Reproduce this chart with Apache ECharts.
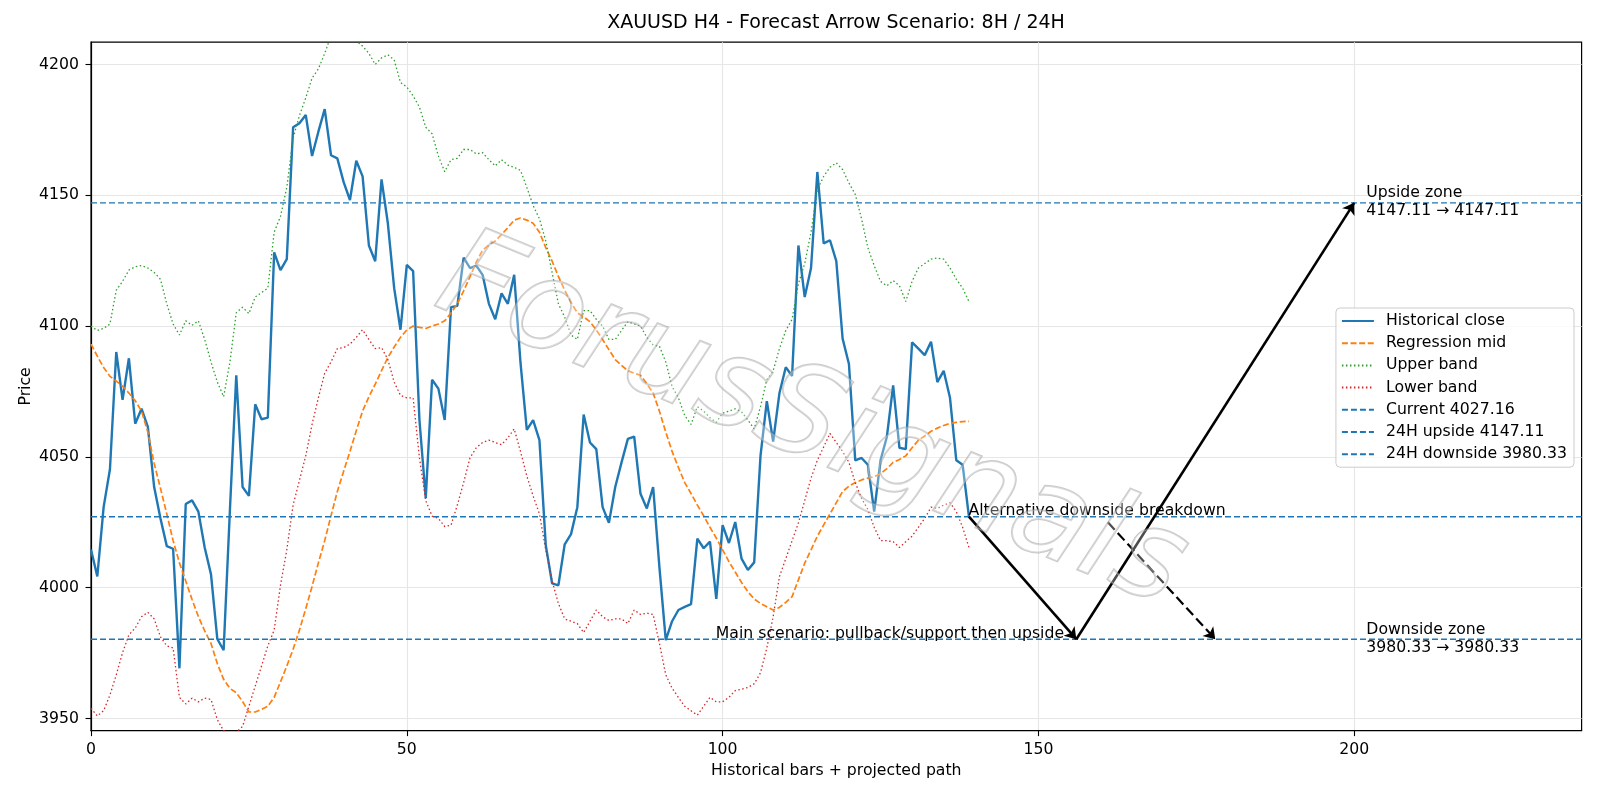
<!DOCTYPE html>
<html>
<head>
<meta charset="utf-8">
<title>XAUUSD H4 - Forecast Arrow Scenario</title>
<script src="https://cdn.jsdelivr.net/npm/echarts@6/dist/echarts.min.js"></script>
<style>
  html, body { margin: 0; padding: 0; background: #fff; }
  #chart { width: 1600px; height: 800px; }
</style>
</head>
<body>
<div id="chart"></div>
<script>
// historical closes, bar 0..139
const HIST_CLOSE = [
  4014.6, 4004.3, 4030.8, 4045.3, 4090.1, 4071.8, 4087.7, 4062.7, 4068.4, 4061.5,
  4038.5, 4026.5, 4015.9, 4014.9, 3969.2, 4032.0, 4033.4, 4029.1, 4015.4, 4005.1,
  3980.4, 3976.1, 4030.0, 4081.2, 4038.5, 4035.1, 4070.1, 4064.4, 4065.0, 4128.2,
  4121.4, 4125.6, 4176.0, 4177.5, 4180.7, 4165.0, 4174.3, 4182.9, 4165.3, 4164.1,
  4155.0, 4148.2, 4163.2, 4157.2, 4130.8, 4124.8, 4156.1, 4139.3, 4114.5, 4098.6,
  4123.4, 4121.0, 4064.1, 4034.2, 4079.5, 4076.1, 4064.1, 4107.2, 4107.7, 4126.2,
  4122.2, 4123.1, 4119.6, 4108.5, 4102.6, 4112.5, 4108.5, 4119.6, 4086.0, 4060.3,
  4064.1, 4056.4, 4016.3, 4001.7, 4000.9, 4016.6, 4020.5, 4030.8, 4066.2, 4055.5,
  4053.0, 4030.8, 4024.8, 4038.5, 4047.9, 4056.9, 4057.8, 4035.9, 4030.3, 4038.5,
  4007.7, 3980.0, 3987.2, 3991.5, 3992.7, 3993.7, 4018.8, 4015.1, 4017.6, 3995.7,
  4023.9, 4017.1, 4025.1, 4011.1, 4006.8, 4009.7, 4050.4, 4071.3, 4055.9, 4074.4,
  4084.3, 4080.9, 4130.8, 4111.1, 4122.2, 4158.9, 4131.6, 4132.8, 4124.8, 4095.2,
  4085.5, 4048.7, 4049.6, 4047.0, 4029.1, 4048.7, 4057.6, 4077.3, 4053.5, 4053.0,
  4093.8, 4091.4, 4088.9, 4094.0, 4078.6, 4082.9, 4072.6, 4048.7, 4047.0, 4027.16
]

const REG_MID = [
  4093.1, 4088.5, 4084.2, 4080.8, 4079.0, 4077.0, 4074.4, 4071.5, 4067.5, 4059.5,
  4047.5, 4038.0, 4028.2, 4018.0, 4009.5, 4002.6, 3995.5, 3989.0, 3983.5, 3978.7,
  3971.0, 3965.0, 3961.5, 3959.9, 3956.5, 3952.5, 3952.5, 3953.5, 3954.7, 3958.1,
  3964.0, 3970.1, 3976.5, 3983.8, 3992.0, 4000.5, 4009.5, 4018.0, 4027.5, 4036.8,
  4044.5, 4052.1, 4060.0, 4067.5, 4073.0, 4077.8, 4083.0, 4088.0, 4092.0, 4095.7,
  4098.5, 4100.0, 4099.5, 4099.1, 4100.0, 4100.8, 4102.0, 4105.0, 4108.5, 4113.5,
  4118.8, 4124.5, 4129.0, 4131.0, 4132.5, 4135.0, 4137.6, 4140.5, 4141.3, 4140.5,
  4139.3, 4135.9, 4130.0, 4124.8, 4119.0, 4113.7, 4109.0, 4105.1, 4103.5, 4101.7,
  4098.5, 4094.9, 4091.0, 4087.2, 4085.0, 4082.9, 4082.0, 4081.2, 4078.0, 4074.4,
  4067.5, 4059.5, 4052.1, 4046.0, 4040.2, 4036.0, 4031.6, 4027.5, 4023.1, 4019.0,
  4014.5, 4010.0, 4006.0, 4002.0, 3998.5, 3995.7, 3994.0, 3992.7, 3991.5, 3992.5,
  3994.4, 3996.6, 4003.0, 4009.4, 4014.5, 4019.7, 4024.0, 4028.2, 4032.5, 4036.8,
  4038.8, 4040.2, 4041.2, 4041.9, 4042.5, 4043.6, 4045.5, 4047.9, 4049.0, 4050.4,
  4053.5, 4056.4, 4058.0, 4059.8, 4061.0, 4062.0, 4062.8, 4063.2, 4063.5, 4063.6
]

const UPPER_BAND = [
  4100.0, 4098.3, 4099.1, 4100.8, 4113.7, 4117.1, 4121.4, 4122.7, 4123.1, 4122.2,
  4120.5, 4117.9, 4108.5, 4100.8, 4096.6, 4102.0, 4100.3, 4102.0, 4094.9, 4086.3,
  4078.6, 4073.0, 4086.3, 4105.1, 4107.2, 4104.8, 4111.1, 4112.8, 4114.5, 4135.9,
  4141.9, 4153.0, 4171.8, 4180.5, 4187.2, 4194.8, 4198.3, 4204.2, 4211.0, 4214.0,
  4214.5, 4212.0, 4209.0, 4207.0, 4204.2, 4200.0, 4202.5, 4203.7, 4201.7, 4193.1,
  4191.4, 4188.0, 4183.7, 4176.0, 4173.5, 4165.0, 4159.0, 4163.6, 4164.1, 4167.5,
  4167.5, 4165.8, 4166.3, 4163.6, 4161.2, 4163.6, 4161.5, 4160.7, 4159.5, 4153.0,
  4146.1, 4141.0, 4132.5, 4120.5, 4108.5, 4103.4, 4096.6, 4094.9, 4105.9, 4105.9,
  4102.6, 4100.0, 4094.9, 4094.9, 4098.3, 4101.7, 4100.8, 4100.0, 4095.7, 4092.8,
  4092.3, 4086.3, 4076.9, 4072.6, 4065.8, 4062.4, 4069.2, 4067.5, 4065.0, 4063.2,
  4066.7, 4067.5, 4068.4, 4067.2, 4064.1, 4060.7, 4069.2, 4079.5, 4082.9, 4091.4,
  4098.3, 4102.6, 4116.2, 4123.9, 4135.9, 4152.1, 4157.2, 4160.7, 4162.4, 4159.8,
  4154.7, 4150.4, 4141.0, 4129.9, 4123.1, 4117.1, 4115.4, 4117.4, 4115.4, 4109.4,
  4117.1, 4122.2, 4123.9, 4125.6, 4126.0, 4125.6, 4122.2, 4117.9, 4114.5, 4109.4
]

const LOWER_BAND = [
  3953.9, 3951.0, 3953.0, 3959.0, 3966.7, 3975.2, 3982.0, 3984.6, 3988.9, 3990.6,
  3988.1, 3981.2, 3977.8, 3977.0, 3958.1, 3955.6, 3957.8, 3956.4, 3957.8, 3957.3,
  3949.6, 3945.3, 3944.5, 3944.8, 3947.0, 3954.7, 3962.4, 3970.1, 3977.8, 3983.8,
  4000.9, 4014.5, 4031.6, 4041.0, 4050.4, 4062.4, 4072.6, 4082.0, 4086.3, 4091.4,
  4091.8, 4093.1, 4095.7, 4098.6, 4094.9, 4091.4, 4091.8, 4087.2, 4078.6, 4073.5,
  4072.6, 4072.6, 4049.6, 4033.3, 4027.4, 4026.5, 4023.4, 4023.9, 4031.6, 4040.2,
  4049.6, 4053.5, 4055.5, 4056.4, 4055.5, 4054.7, 4057.3, 4060.7, 4052.1, 4042.7,
  4035.1, 4028.2, 4014.5, 4002.6, 3994.0, 3988.1, 3987.2, 3986.3, 3982.9, 3987.2,
  3991.5, 3988.9, 3987.5, 3988.1, 3988.1, 3986.3, 3991.5, 3989.8, 3990.3, 3989.8,
  3978.7, 3966.7, 3961.6, 3958.1, 3954.7, 3953.0, 3951.3, 3954.7, 3958.1, 3956.4,
  3956.4, 3958.1, 3960.7, 3961.2, 3961.9, 3963.3, 3967.5, 3977.0, 3988.9, 4004.3,
  4011.1, 4018.0, 4024.8, 4033.3, 4041.9, 4048.7, 4053.8, 4059.0, 4055.5, 4052.1,
  4047.9, 4040.2, 4034.2, 4029.9, 4023.1, 4018.0, 4018.0, 4017.6, 4015.4, 4017.6,
  4019.7, 4023.1, 4026.5, 4030.8, 4030.3, 4031.6, 4032.5, 4029.1, 4023.1, 4015.4
]

const CURRENT = 4027.16
const UP_24H = 4147.11
const DOWN_24H = 3980.33

// projected path arrows [from, to] in (bar, price)
const ARROW_PULLBACK = [[139, CURRENT], [156, DOWN_24H]]
const ARROW_UPSIDE = [[156, DOWN_24H], [200, UP_24H]]
const ARROW_ALT = [[161, 4025.0], [178, DOWN_24H]]

const X_TICKS = [0, 50, 100, 150, 200]
const Y_TICKS = [3950, 4000, 4050, 4100, 4150, 4200]
const X_MIN = 0, X_MAX = 236
const Y_MIN = 3945.4, Y_MAX = 4208.5

const FONT = 'DejaVu Sans'
const BLUE = '#1f77b4'

const toXY = (arr) => arr.map((v, i) => [i, v])
const hline = (v) => [[X_MIN, v], [X_MAX, v]]

let chart = echarts.init(document.getElementById('chart'))

let option = {
    animation: false,
    backgroundColor: '#fff',
    title: {
        text: 'XAUUSD H4 - Forecast Arrow Scenario: 8H / 24H',
        left: 836,
        top: 14,
        textAlign: 'center',
        padding: 0,
        textStyle: { fontFamily: FONT, fontSize: 19, fontWeight: 'normal', color: '#000' }
    },
    grid: {
        left: 91, right: 18.4, top: 42.2, bottom: 69.4,
        show: true, borderColor: '#000', borderWidth: 1.2,
        outerBoundsMode: 'none'
    },
    legend: {
        data: ['Historical close', 'Regression mid', 'Upper band', 'Lower band',
            'Current 4027.16', '24H upside 4147.11', '24H downside 3980.33'],
        orient: 'vertical',
        right: 26,
        top: 308,
        itemWidth: 32,
        itemHeight: 16,
        itemGap: 6.2,
        padding: [5, 7, 5, 5],
        backgroundColor: 'rgba(255,255,255,0.8)',
        borderColor: '#cccccc',
        borderWidth: 1,
        borderRadius: 4,
        itemStyle: { opacity: 0 },
        textStyle: { fontFamily: FONT, fontSize: 15.7, color: '#000', padding: [0, 0, 0, 7] }
    },
    xAxis: {
        type: 'value',
        min: X_MIN, max: X_MAX, interval: 50,
        name: 'Historical bars + projected path',
        nameLocation: 'middle',
        nameGap: 32,
        nameMoveOverlap: false,
        nameTextStyle: { fontFamily: FONT, fontSize: 15.7, color: '#000' },
        axisLine: { show: true, lineStyle: { color: '#000', width: 1.2 } },
        axisTick: { show: true, length: 5.5, lineStyle: { color: '#000', width: 1.1 }, customValues: X_TICKS },
        axisLabel: { fontFamily: FONT, fontSize: 15.7, color: '#000', margin: 11, customValues: X_TICKS,
            formatter: (v) => String(v) },
        splitLine: { show: true, lineStyle: { color: '#e6e6e6', width: 1.1 } }
    },
    yAxis: {
        type: 'value',
        min: Y_MIN, max: Y_MAX,
        name: 'Price',
        nameLocation: 'middle',
        nameGap: 57,
        nameMoveOverlap: false,
        nameTextStyle: { fontFamily: FONT, fontSize: 15.7, color: '#000' },
        axisLine: { show: true, lineStyle: { color: '#000', width: 1.2 } },
        axisTick: { show: true, length: 5.5, lineStyle: { color: '#000', width: 1.1 }, customValues: Y_TICKS },
        axisLabel: { fontFamily: FONT, fontSize: 15.7, color: '#000', margin: 12, customValues: Y_TICKS,
            formatter: (v) => String(v) },
        splitLine: { show: true, lineStyle: { color: '#e6e6e6', width: 1.1 } }
    },
    series: [
        {
            name: 'Historical close', type: 'line', symbol: 'none',
            data: toXY(HIST_CLOSE),
            lineStyle: { color: BLUE, width: 2.4 }, itemStyle: { color: BLUE }
        },
        {
            name: 'Regression mid', type: 'line', symbol: 'none',
            data: toXY(REG_MID),
            lineStyle: { color: '#ff7f0e', width: 1.7, type: [6, 2.6] }, itemStyle: { color: '#ff7f0e' }
        },
        {
            name: 'Upper band', type: 'line', symbol: 'none',
            data: toXY(UPPER_BAND),
            lineStyle: { color: '#2ca02c', width: 1.3, type: [1.5, 2.5] }, itemStyle: { color: '#2ca02c' }
        },
        {
            name: 'Lower band', type: 'line', symbol: 'none',
            data: toXY(LOWER_BAND),
            lineStyle: { color: '#d62728', width: 1.3, type: [1.5, 2.5] }, itemStyle: { color: '#d62728' }
        },
        {
            name: 'Current 4027.16', type: 'line', symbol: 'none',
            data: hline(CURRENT),
            lineStyle: { color: BLUE, width: 1.4, type: [6, 3] }, itemStyle: { color: BLUE }
        },
        {
            name: '24H upside 4147.11', type: 'line', symbol: 'none',
            data: hline(UP_24H),
            lineStyle: { color: BLUE, width: 1.4, type: [6, 3] }, itemStyle: { color: BLUE }
        },
        {
            name: '24H downside 3980.33', type: 'line', symbol: 'none',
            data: hline(DOWN_24H),
            lineStyle: { color: BLUE, width: 1.4, type: [6, 3] }, itemStyle: { color: BLUE }
        },
        {
            // arrows + text notes
            name: 'annotations', type: 'line', data: [], silent: true,
            markLine: {
                silent: true,
                symbol: ['none', 'arrow'],
                symbolSize: 11,
                label: { show: false },
                lineStyle: { color: '#000', width: 2.6, type: 'solid' },
                data: [
                    [{ coord: ARROW_PULLBACK[0] }, { coord: ARROW_PULLBACK[1] }],
                    [{ coord: ARROW_UPSIDE[0] }, { coord: ARROW_UPSIDE[1] }],
                    [{ coord: ARROW_ALT[0], lineStyle: { type: [10, 4.5], width: 2.2 } }, { coord: ARROW_ALT[1] }]
                ]
            },
            markPoint: {
                silent: true,
                symbol: 'circle',
                symbolSize: 1,
                itemStyle: { color: 'rgba(0,0,0,0)' },
                label: {
                    show: true, position: [0, 0],
                    fontFamily: FONT, fontSize: 15.7, color: '#000',
                    align: 'left', verticalAlign: 'bottom', lineHeight: 18
                },
                data: [
                    { coord: [139, CURRENT], label: { formatter: 'Alternative downside breakdown', offset: [0, 4] } },
                    { coord: [99, DOWN_24H], label: { formatter: 'Main scenario: pullback/support then upside', offset: [0, 4] } },
                    { coord: [202, UP_24H], label: { formatter: 'Upside zone\n4147.11 \u2192 4147.11', verticalAlign: 'middle' } },
                    { coord: [202, DOWN_24H], label: { formatter: 'Downside zone\n3980.33 \u2192 3980.33', verticalAlign: 'middle' } }
                ]
            }
        }
    ],
    graphic: [
        {
            // watermark
            type: 'text',
            silent: true,
            z: 50,
            x: 811, y: 425,
            rotation: -0.39,
            style: {
                text: 'ForusSignals',
                font: 'italic 125px "DejaVu Sans"',
                fill: 'rgba(255,255,255,0.3)',
                stroke: 'rgba(150,150,150,0.5)',
                lineWidth: 2,
                align: 'center',
                verticalAlign: 'middle'
            }
        }
    ]
}

chart.setOption(option)
</script>
</body>
</html>
